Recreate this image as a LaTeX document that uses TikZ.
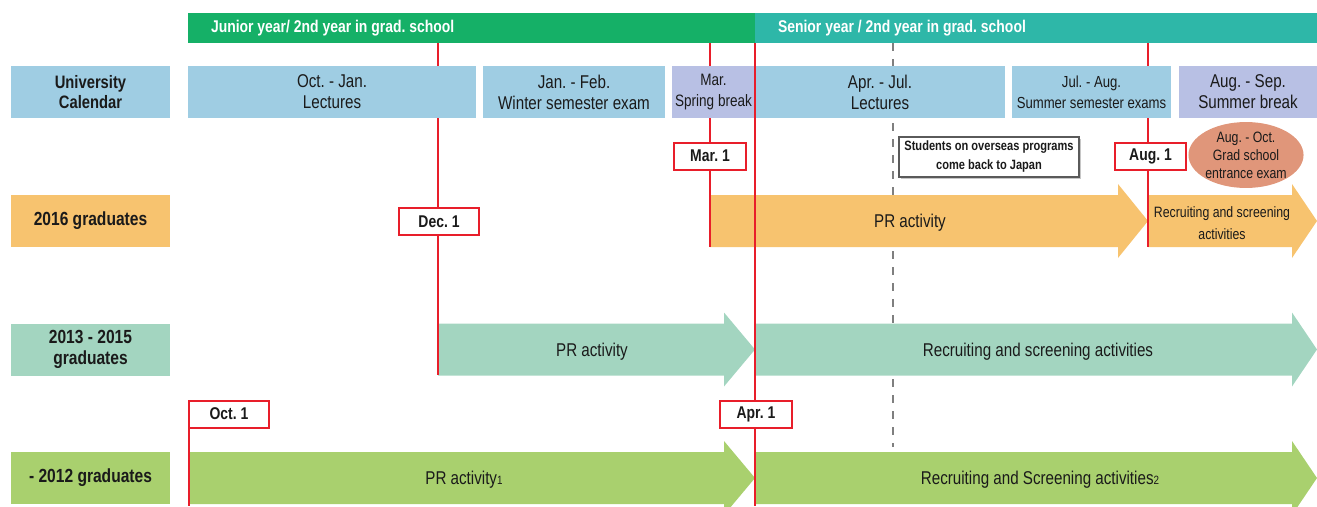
\documentclass[tikz,border=0pt]{standalone}
\usepackage{fontspec}
\setmainfont{Liberation Sans}[FakeStretch=0.82]
\usetikzlibrary{shapes.geometric,shadows}
\definecolor{jgreen}{HTML}{15B067}
\definecolor{steal}{HTML}{2EB7A8}
\definecolor{calblue}{HTML}{9FCDE3}
\definecolor{lav}{HTML}{B8C0E4}
\definecolor{orng}{HTML}{F7C36F}
\definecolor{mint}{HTML}{A3D5C0}
\definecolor{lgreen}{HTML}{A9D06E}
\definecolor{salmon}{HTML}{E0967A}
\definecolor{tred}{HTML}{E81E2A}
\definecolor{dgray}{HTML}{7F7F7F}
\definecolor{bgray}{HTML}{5A5A5A}
\definecolor{txt}{HTML}{1A1A1A}
\frenchspacing
\newcommand\fsz[2]{\fontsize{#1}{#2}\selectfont}
\newcommand\tlarrow[5]{\fill[#4] (#1,#3-26) -- (#2-#5,#3-26) -- (#2-#5,#3-37) -- (#2,#3) -- (#2-#5,#3+37) -- (#2-#5,#3+26) -- (#1,#3+26) -- cycle;}
\begin{document}
\frenchspacing
\begin{tikzpicture}[x=1pt,y=-1pt,
  every node/.style={inner sep=0pt,outer sep=0pt,text=txt},
  yearbar/.style={minimum height=30,text width=#1,inner xsep=23,align=flush left,text=white,font=\fsz{17}{20}\bfseries,anchor=west},
  calbox/.style={minimum height=52,align=center,font=\fsz{18.5}{21}},
  rowlabel/.style={minimum width=159,minimum height=52,align=center,font=\fsz{19}{21}\bfseries},
  datebox/.style={draw=tred,line width=2,fill=white,minimum height=27,font=\fsz{17}{20}\bfseries},
  redline/.style={draw=tred,line width=2},
  dashline/.style={draw=dgray,line width=2,dash pattern=on 8 off 8},
  arrowtext/.style={font=\fsz{18.5}{21},align=center,yshift=-1.5pt}]
\useasboundingbox (0,0) rectangle (1317,506);
\clip (0,0) rectangle (1317,506);

% year bars
\node[yearbar=521,fill=jgreen] (junior) at (188,28) {Junior year/ 2nd year in grad. school};
\node[yearbar=516,fill=steal] (senior) at (755,28) {Senior year / 2nd year in grad. school};

% dashed line (behind arrows)
\coordinate (dashTop) at (893,43);
\coordinate (dashBot) at (893,447);
\draw[dashline] (dashTop) -- (dashBot);

% arrows
\tlarrow{710}{1148}{221}{orng}{30}
\tlarrow{1148}{1317}{221}{orng}{25}
\tlarrow{438}{755}{349.5}{mint}{31}
\tlarrow{755}{1317}{349.5}{mint}{25}
\tlarrow{188}{755}{478}{lgreen}{31}
\tlarrow{755}{1317}{478}{lgreen}{25}

\node[arrowtext] (pr16) at (910,221) {PR activity};
\node[arrowtext,font=\fsz{15}{22}] (rs16) at (1222,222) {Recruiting and screening\\activities};
\node[arrowtext] (pr13) at (592,350) {PR activity};
\node[arrowtext] (rs13) at (1038,350) {Recruiting and screening activities};
\node[arrowtext] (pr12) at (464,478) {PR activity{\fsz{12}{12}1}};
\node[arrowtext] (rs12) at (1040,478) {Recruiting and Screening activities{\fsz{12}{12}2}};

% red lines
\coordinate (decTop) at (438,43);  \coordinate (decBot) at (438,375);
\coordinate (marTop) at (710,43);  \coordinate (marBot) at (710,247);
\coordinate (augTop) at (1148,43); \coordinate (augBot) at (1148,247);
\coordinate (aprTop) at (755,43);  \coordinate (aprBot) at (755,506);
\coordinate (octTop) at (189,428); \coordinate (octBot) at (189,506);
\draw[redline] (decTop) -- (decBot);
\draw[redline] (marTop) -- (marBot);
\draw[redline] (augTop) -- (augBot);

% calendar row
\node[calbox,fill=calblue,minimum width=159,font=\fsz{18}{20}\bfseries] (uc) at (90.5,92) {University\\Calendar};
\node[calbox,fill=calblue,minimum width=288] (oj) at (332,92) {Oct. - Jan.\\Lectures};
\node[calbox,fill=calblue,minimum width=182] (jf) at (574,92) {Jan. - Feb.\\Winter semester exam};
\node[calbox,fill=lav,minimum width=83,font=\fsz{16.5}{21}] (mr) at (713.5,92) {Mar.\\Spring break};
\node[calbox,fill=calblue,minimum width=250] (aj) at (880,92) {Apr. - Jul.\\Lectures};
\node[calbox,fill=calblue,minimum width=159,font=\fsz{16}{21}] (ja) at (1091.5,92) {Jul. - Aug.\\Summer semester exams};
\node[calbox,fill=lav,minimum width=138] (as) at (1248,92) {Aug. - Sep.\\Summer break};

\draw[redline] (aprTop) -- (aprBot);

% row labels
\node[rowlabel,fill=orng] (g16) at (90.5,221) {2016 graduates};
\node[rowlabel,fill=mint] (g13) at (90.5,349.5) {2013 - 2015\\graduates};
\node[rowlabel,fill=lgreen] (g12) at (90.5,478) {- 2012 graduates};

% date boxes
\draw[redline] (octTop) -- (octBot);
\node[datebox,minimum width=72] (mar1) at (710,156) {Mar. 1};
\node[datebox,minimum width=71] (aug1) at (1150.5,156) {Aug. 1};
\node[datebox,minimum width=80] (dec1) at (439,221.5) {Dec. 1};
\node[datebox,minimum width=72] (apr1) at (756,414) {Apr. 1};
\node[datebox,minimum width=80] (oct1) at (229,414) {Oct. 1};

% overseas note
\node[draw=bgray,line width=2,fill=white,minimum width=180,minimum height=40,align=center,
      font=\fsz{13.5}{19}\bfseries,drop shadow={shadow xshift=1.5pt,shadow yshift=-1.5pt,fill=gray!45,opacity=1}] (ovs) at (989,157)
      {Students on overseas programs\\come back to Japan};

% grad school exam
\node[ellipse,fill=salmon,minimum width=97,minimum height=58,align=center,font=\fsz{15}{18}] (gse) at (1246,155)
      {Aug. - Oct.\\Grad school\\entrance exam};
\end{tikzpicture}
\end{document}
